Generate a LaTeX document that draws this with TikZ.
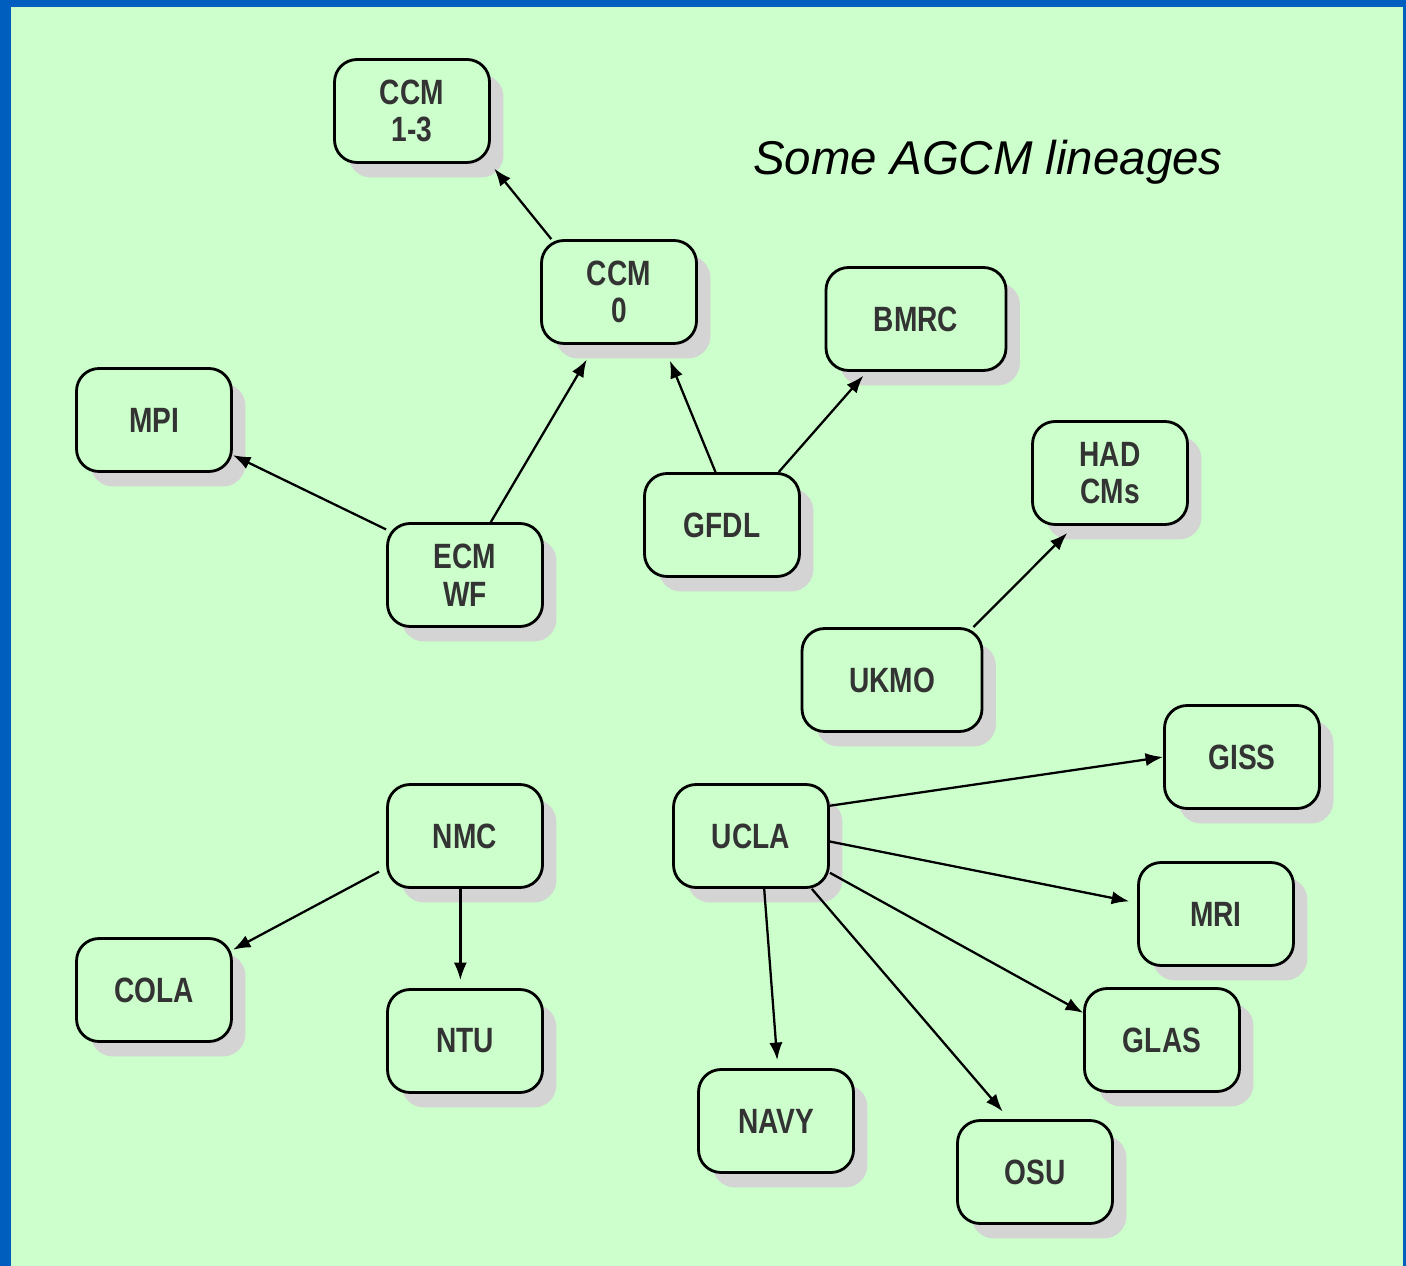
\documentclass[tikz,border=0pt]{standalone}
\usepackage{fontspec}
\setmainfont{Liberation Sans}
\newfontfamily\agcmfont[FakeStretch=0.8]{Liberation Sans}
\usetikzlibrary{arrows.meta, shadows}
\definecolor{slideblue}{HTML}{005EBE}
\definecolor{slidegreen}{HTML}{CCFFCC}

\begin{document}
\begin{tikzpicture}[x=0.02cm, y=-0.02cm,
  model/.style={draw=black, line width=1.6pt, rounded corners=0.45cm, fill=slidegreen,
    minimum width=3.1cm, minimum height=2.06cm, align=center, inner sep=2pt,
    font=\agcmfont\bfseries\fontsize{20}{21.5}\selectfont, text=black!80,
    drop shadow={shadow xshift=0.28cm, shadow yshift=-0.3cm, fill=black!17, opacity=1}},
  widemodel/.style={model, minimum width=3.6cm},
  arrow/.style={-{Latex[length=10pt, width=7.5pt]}, line width=1.3pt, draw=black}]
  \useasboundingbox (0,0) rectangle (1406,1266);
  \fill[slideblue] (0,0) rectangle (1406,1266);
  \fill[slidegreen] (11,7) rectangle (1403,1266);
  % title
  \node[font=\itshape\fontsize{27}{30}\selectfont] (title) at (988,162) {Some AGCM lineages};
  % models
  \node[model] (ccmA) at (412,111) {CCM\\1-3};
  \node[model] (ccmO) at (619,292) {CCM\\0};
  \node[widemodel] (bmrc) at (916,319) {BMRC};
  \node[model] (mpi) at (154,420) {MPI};
  \node[model] (had) at (1110,473) {HAD\\CMs};
  \node[model] (gfdl) at (722,525) {GFDL};
  \node[model] (ecmwf) at (465,575) {ECM\\WF};
  \node[widemodel] (ukmo) at (892,680) {UKMO};
  \node[model] (giss) at (1242,757) {GISS};
  \node[model] (nmc) at (465,836) {NMC};
  \node[model] (ucla) at (751,836) {UCLA};
  \node[model] (mri) at (1216,914) {MRI};
  \node[model] (cola) at (154,990) {COLA};
  \node[model] (ntu) at (465,1041) {NTU};
  \node[model] (glas) at (1162,1040) {GLAS};
  \node[model] (navy) at (776,1121) {NAVY};
  \node[model] (osu) at (1035,1172) {OSU};
  % lineages
  \draw[arrow, shorten >=0.12cm] (ccmO.142) -- (ccmA.-34);
  \draw[arrow, shorten >=0.34cm] (ecmwf.64) -- (ccmO.-114);
  \draw[arrow] (ecmwf.150) -- (mpi.-24);
  \draw[arrow, shorten >=0.34cm] (gfdl.97) -- (ccmO.-50);
  \draw[arrow, shorten >=0.1cm] (gfdl.43) -- (bmrc.-133);
  \draw[arrow, shorten >=0.2cm] (ukmo.33) -- (had.-124);
  \draw[arrow] (ucla.21) -- (giss.west);
  \draw[arrow, shorten >=0.16cm] (ucla.-4) -- (mri.172);
  \draw[arrow] (ucla.-25) -- (glas.161);
  \draw[arrow, shorten >=0.2cm] (ucla.-41) -- (osu.116);
  \draw[arrow, shorten >=0.16cm] (ucla.-76) -- (navy.88);
  \draw[arrow, shorten <=0.16cm] (nmc.-158) -- (cola.27);
  \draw[arrow, shorten >=0.16cm] (nmc.-95) -- (ntu.95);
\end{tikzpicture}
\end{document}
